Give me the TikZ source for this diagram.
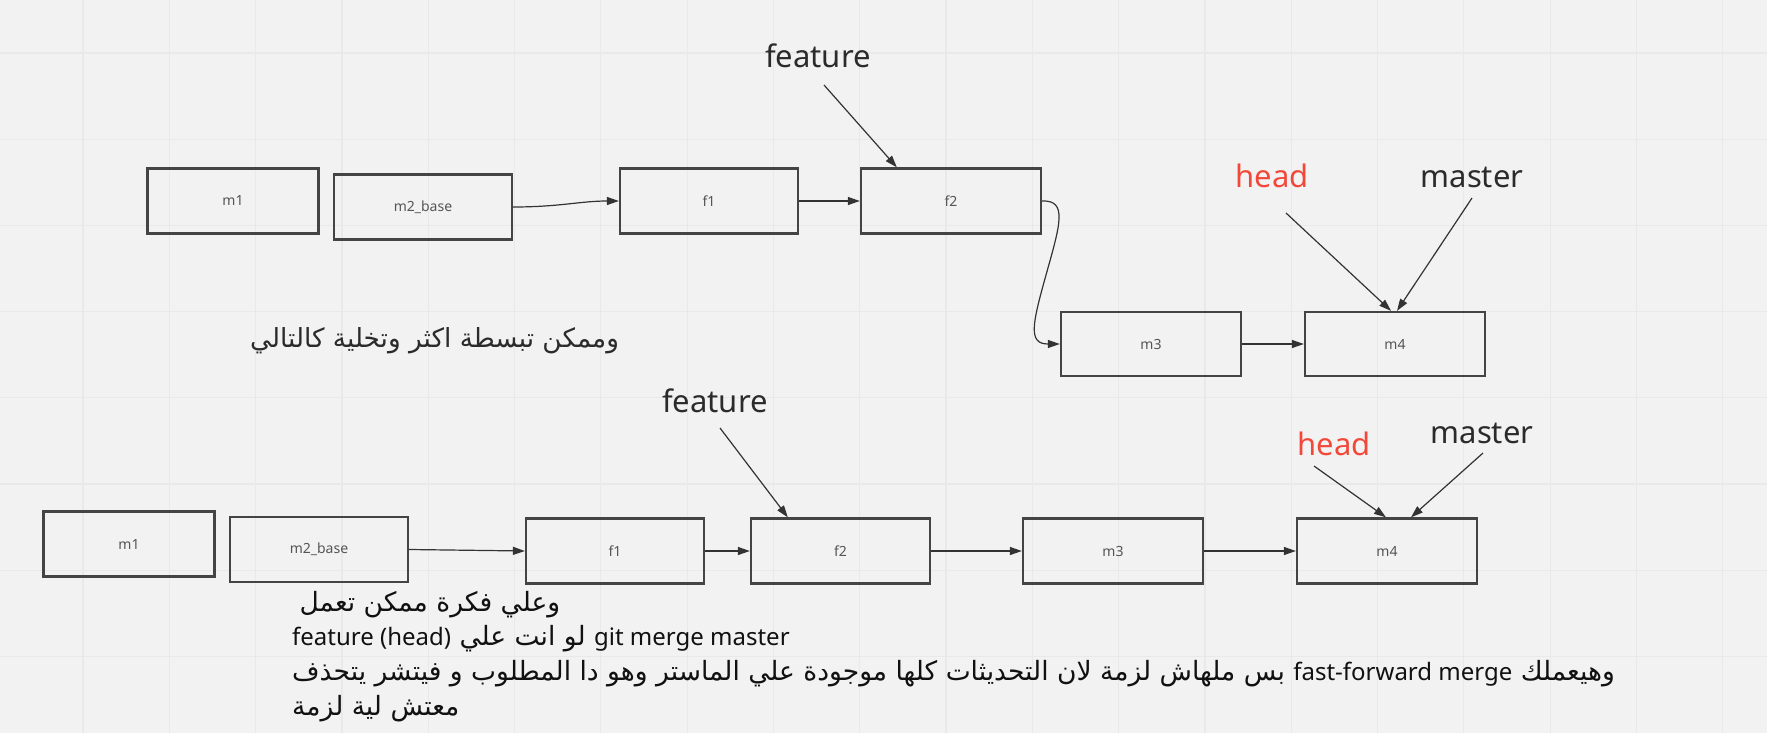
\documentclass[tikz,border=0pt]{standalone}
\usepackage{fontspec}
\setmainfont{Noto Sans}
\newfontfamily\latinfont{Noto Sans}
\newfontfamily\arabicfont[Script=Arabic,Scale=1.105]{DejaVu Sans}
\TeXXeTstate=1
\usetikzlibrary{arrows.meta,calc}
\definecolor{bgc}{HTML}{F2F2F2}
\definecolor{gridc}{HTML}{E9E9E9}
\definecolor{boxc}{HTML}{444444}
\definecolor{commitc}{HTML}{555555}
\definecolor{labc}{HTML}{2B2B2B}
\definecolor{headc}{HTML}{F2483A}
\definecolor{linkc}{HTML}{333333}
\definecolor{txtc}{HTML}{111111}
\tikzset{
  commit/.style={draw=boxc, line width=2.3pt, minimum width=178pt, minimum height=65pt,
    inner sep=0pt, font=\fontsize{14}{16}\selectfont, text=commitc},
  lbl/.style={font=\fontsize{31}{36}\selectfont, text=labc, anchor=base, inner sep=0pt},
  headlbl/.style={lbl, text=headc},
  link/.style={draw=linkc, line width=1.2pt, -{Triangle[length=12pt,width=8pt]}},
  rtl/.style={anchor=base west, inner sep=0pt, text=txtc, font=\fontsize{24}{28}\selectfont},
}
\begin{document}
\begin{tikzpicture}[x=1pt,y=-1pt]
% background and grid
\fill[bgc] (0,0) rectangle (1767,733);
\useasboundingbox (0,0) rectangle (1767,733);
\foreach \k in {0,...,19} {\draw[gridc, line width=1.2pt] ({83+86.3*\k},0) -- ({83+86.3*\k},733);}
\foreach \k in {0,...,7} {\draw[gridc, line width=1.2pt] (0,{53+86.2*\k}) -- (1767,{53+86.2*\k});}

% ---------- top row ----------
\node[commit, minimum width=171pt] (m1) at (233,201) {m1};
\node[commit] (m2b) at (423,207) {m2\_base};
\node[commit] (f1) at (709,201) {f1};
\node[commit, minimum width=180pt] (f2) at (951,201) {f2};
\node[commit, minimum width=180pt, minimum height=64pt] (m3) at (1151,344) {m3};
\node[commit, minimum width=180pt, minimum height=64pt] (m4) at (1395,344) {m4};

\draw[link] (m2b.east) .. controls (560,207) and (580,201) .. (f1.west);
\draw[link] (f1) -- (f2);
\draw[link] (f2.east) .. controls (1068,200) and (1060,225) .. (1046,275)
                      .. controls (1032,325) and (1028,344) .. (m3.west);
\draw[link] (m3) -- (m4);

\node[lbl] (featT) at (818,68) {feature};
\node[headlbl] (headT) at (1272,187) {head};
\node[lbl] (mastT) at (1472,187) {master};
\coordinate (featTs) at (824,85);
\coordinate (headTs) at (1286,213);
\coordinate (mastTs) at (1472,198);
\draw[link] (featTs) -- ($(f2.north west)+(37,0)$);
\draw[link] (headTs) -- ($(m4.north)+(-4,0)$);
\draw[link] (mastTs) -- ($(m4.north)+(2,0)$);

\node[anchor=base west, inner sep=0pt, text=labc, font=\fontsize{23.8}{28}\selectfont] (note1) at (250,347)
  {\arabicfont\beginR وممكن تبسطة اكثر وتخلية كالتالي\endR};

% ---------- bottom row ----------
\node[commit, minimum width=171pt] (bm1) at (129,544) {m1};
\node[commit] (bm2b) at (319,549.5) {m2\_base};
\node[commit] (bf1) at (615,551) {f1};
\node[commit, minimum width=179pt] (bf2) at (840.5,551) {f2};
\node[commit, minimum width=180pt] (bm3) at (1113,551) {m3};
\node[commit, minimum width=180pt] (bm4) at (1387,551) {m4};

\draw[link] (bm2b.east) -- (bf1.west);
\draw[link] (bf1) -- (bf2);
\draw[link] (bf2) -- (bm3);
\draw[link] (bm3) -- (bm4);

\node[lbl] (featB) at (715,412) {feature};
\node[headlbl] (headB) at (1334,455) {head};
\node[lbl] (mastB) at (1482,443) {master};
\coordinate (featBs) at (720,428);
\coordinate (headBs) at (1314,466);
\coordinate (mastBs) at (1483,453);
\draw[link] (featBs) -- ($(bf2.north west)+(38,0)$);
\draw[link] (headBs) -- ($(bm4.north)+(-1,0)$);
\draw[link] (mastBs) -- ($(bm4.north)+(24,0)$);

% ---------- explanation ----------
\node[rtl] (t1) at (291,611) {\arabicfont\beginR وعلي فكرة ممكن تعمل \endR};
\node[rtl] (t2) at (292,645) {\arabicfont\beginR\beginL{\latinfont git merge master}\endL{} لو انت علي \beginL{\latinfont feature (head)}\endL\endR};
\node[rtl] (t3) at (292,680) {\arabicfont\beginR وهيعملك \beginL{\latinfont fast-forward merge}\endL{} بس ملهاش لزمة لان التحديثات كلها موجودة علي الماستر وهو دا المطلوب و فيتشر يتحذف\endR};
\node[rtl] (t4) at (292,715) {\arabicfont\beginR معتش لية لزمة\endR};
\end{tikzpicture}
\end{document}
